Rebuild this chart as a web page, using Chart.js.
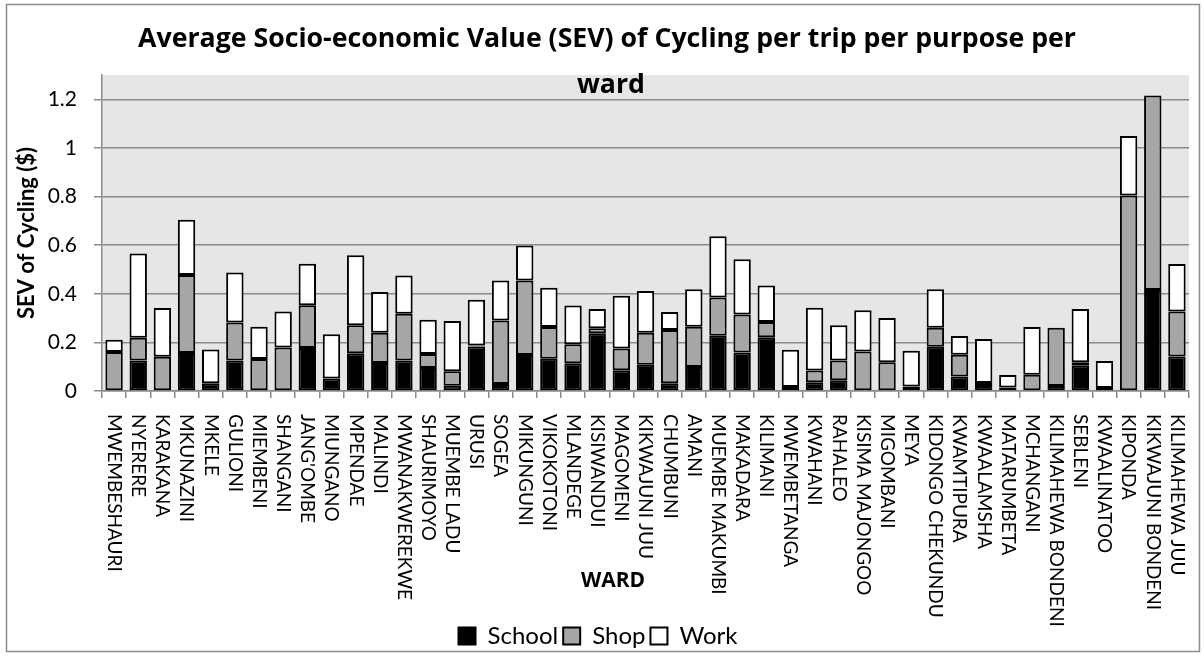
<!DOCTYPE html>
<html>
<head>
<meta charset="utf-8">
<title>Average SEV of Cycling per ward</title>
<script src="https://cdn.jsdelivr.net/npm/chart.js@4.4.1/dist/chart.umd.min.js"></script>
<style>
  html, body { margin: 0; padding: 0; background: #fff; }
  #wrap { position: relative; width: 1204px; height: 656px; }
</style>
</head>
<body>
<div id="wrap"><canvas id="sevChart" width="1204" height="656"></canvas></div>
<script>
// wards in the order they appear on the x axis
const wards = [
  'MWEMBESHAURI', 'NYERERE', 'KARAKANA', 'MKUNAZINI', 'MKELE', 'GULIONI', 'MIEMBENI',
  'SHANGANI', "JANG'OMBE", 'MIUNGANO', 'MPENDAE', 'MALINDI', 'MWANAKWEREKWE', 'SHAURIMOYO',
  'MUEMBE LADU', 'URUSI', 'SOGEA', 'MIKUNGUNI', 'VIKOKOTONI', 'MLANDEGE', 'KISIWANDUI',
  'MAGOMENI', 'KIKWAJUNI JUU', 'CHUMBUNI', 'AMANI', 'MUEMBE MAKUMBI', 'MAKADARA', 'KILIMANI',
  'MWEMBETANGA', 'KWAHANI', 'RAHALEO', 'KISIMA MAJONGOO', 'MIGOMBANI', 'MEYA',
  'KIDONGO CHEKUNDU', 'KWAMTIPURA', 'KWAALAMSHA', 'MATARUMBETA', 'MCHANGANI',
  'KILIMAHEWA BONDENI', 'SEBLENI', 'KWAALINATOO', 'KIPONDA', 'KIKWAJUNI BONDENI',
  'KILIMAHEWA JUU'
];

// SEV ($) per trip
const school = [
  0, 0.125, 0, 0.156, 0.032, 0.125, 0, 0, 0.177, 0.051, 0.155, 0.115, 0.125, 0.095,
  0.022, 0.183, 0.029, 0.148, 0.133, 0.114, 0.238, 0.085, 0.108, 0.032, 0.099, 0.227,
  0.158, 0.221, 0, 0.036, 0.044, 0, 0, 0, 0.182, 0.060, 0.025, 0, 0, 0.021, 0.104, 0,
  0, 0.416, 0.142
];
const shop = [
  0.160, 0.094, 0.141, 0.321, 0, 0.157, 0.132, 0.179, 0.176, 0, 0.115, 0.125, 0.193, 0.057,
  0.059, 0.004, 0.261, 0.307, 0.130, 0.078, 0.020, 0.090, 0.132, 0.219, 0.165, 0.158,
  0.157, 0.063, 0.016, 0.048, 0.081, 0.163, 0.118, 0.019, 0.078, 0.089, 0.008, 0.014,
  0.067, 0.239, 0.014, 0.012, 0.804, 0.800, 0.185
];
const work = [
  0.051, 0.347, 0.200, 0.227, 0.139, 0.206, 0.132, 0.148, 0.170, 0.182, 0.288, 0.167,
  0.157, 0.141, 0.207, 0.188, 0.165, 0.144, 0.162, 0.160, 0.079, 0.217, 0.171, 0.074,
  0.155, 0.252, 0.227, 0.150, 0.154, 0.258, 0.145, 0.169, 0.182, 0.147, 0.159, 0.077,
  0.181, 0.052, 0.196, 0, 0.219, 0.111, 0.245, 0, 0.195
];

const yTicks = [0, 0.2, 0.4, 0.6, 0.8, 1, 1.2];
const titleLines = ['Average Socio-economic Value (SEV) of Cycling per trip per purpose per', 'ward'];
const xTitle = 'WARD';
const yTitle = 'SEV of Cycling ($)';

const FONT = 'Lato, "Open Sans", sans-serif';
const WIDE = '"Open Sans", Lato, sans-serif';
const GRID = '#8a8a8a';

// grey plot area + outer frame
const backdrop = {
  id: 'backdrop',
  beforeDraw(chart) {
    const { ctx, chartArea: a } = chart;
    ctx.save();
    ctx.fillStyle = '#fff';
    ctx.fillRect(0, 0, chart.width, chart.height);
    ctx.fillStyle = '#e6e6e6';
    ctx.fillRect(a.left, a.top, a.right - a.left, a.bottom - a.top);
    ctx.strokeStyle = '#8c8c8c';
    ctx.lineWidth = 1.5;
    ctx.strokeRect(6.5, 4.5, 1193, 647);
    ctx.restore();
  }
};

// title over the plot, x title, and top-to-bottom ward labels
const overlay = {
  id: 'overlay',
  afterDraw(chart) {
    const { ctx } = chart;
    const xs = chart.scales.x;
    ctx.save();
    ctx.fillStyle = '#000';
    ctx.textAlign = 'center';
    ctx.textBaseline = 'alphabetic';
    ctx.font = 'bold 26.7px ' + WIDE;
    ctx.fillText(titleLines[0], 607, 47);
    ctx.fillText(titleLines[1], 611, 93);

    ctx.font = 'bold 21px ' + WIDE;
    ctx.textBaseline = 'middle';
    ctx.fillText(xTitle, 613, 581);

    ctx.font = '19px ' + FONT;
    ctx.textAlign = 'left';
    wards.forEach((w, i) => {
      ctx.save();
      ctx.translate(xs.getPixelForTick(i), 414);
      ctx.rotate(Math.PI / 2);
      ctx.fillText(w, 0, 0);
      ctx.restore();
    });
    ctx.restore();
  }
};

const barStyle = { borderColor: '#000', borderWidth: 2, borderSkipped: false };

new Chart(document.getElementById('sevChart'), {
  type: 'bar',
  data: {
    labels: wards,
    datasets: [
      { label: 'School', data: school, backgroundColor: '#000', ...barStyle },
      { label: 'Shop', data: shop, backgroundColor: '#a6a6a6', ...barStyle },
      { label: 'Work', data: work, backgroundColor: '#fff', ...barStyle }
    ]
  },
  options: {
    responsive: false,
    animation: false,
    devicePixelRatio: 1,
    categoryPercentage: 0.8,
    barPercentage: 0.9,
    layout: { padding: { left: 7, right: 15, top: 75, bottom: -2 } },
    plugins: {
      legend: {
        position: 'bottom',
        labels: {
          color: '#000',
          font: { family: FONT, size: 24 },
          boxWidth: 17,
          boxHeight: 17,
          padding: 5
        }
      },
      tooltip: { enabled: false }
    },
    scales: {
      x: {
        stacked: true,
        afterFit(scale) { scale.height = 228; },
        grid: { display: true, drawOnChartArea: false, offset: true, tickLength: 7, color: GRID, lineWidth: 1.5 },
        border: { color: GRID, width: 1.5 },
        ticks: { display: false }
      },
      y: {
        stacked: true,
        min: 0,
        max: 1.3,
        afterFit(scale) { scale.width = 95; },
        afterBuildTicks(scale) { scale.ticks = yTicks.map(v => ({ value: v })); },
        grid: { color: GRID, lineWidth: 1.5, tickLength: 8 },
        border: { color: GRID, width: 1.5 },
        ticks: { color: '#000', font: { family: FONT, size: 21 }, padding: 17, callback: v => String(v) },
        title: {
          display: true,
          text: yTitle,
          color: '#000',
          font: { family: FONT, size: 22, weight: 'bold' },
          padding: { top: 7, bottom: 0 }
        }
      }
    }
  },
  plugins: [backdrop, overlay]
});
</script>
</body>
</html>
